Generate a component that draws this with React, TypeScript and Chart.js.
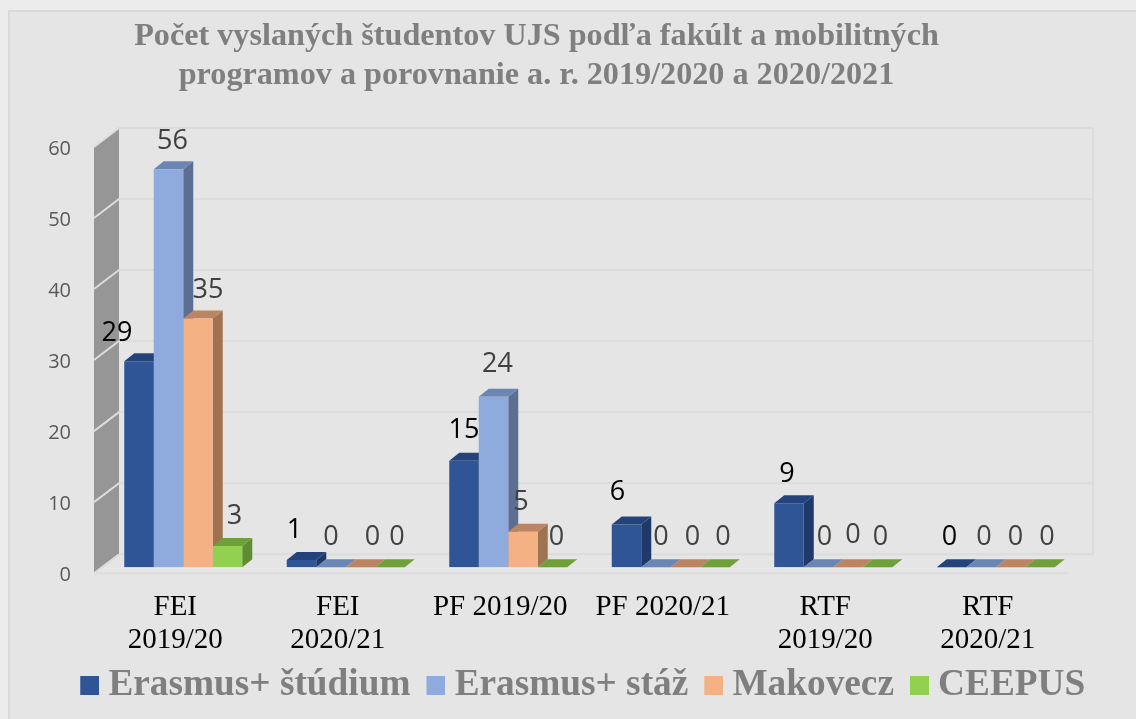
import React, { useEffect, useRef } from "react";
import { Chart, registerables } from "chart.js";

Chart.register(...registerables);

const categories = [["FEI", "2019/20"], ["FEI", "2020/21"], "PF 2019/20", "PF 2020/21", ["RTF", "2019/20"], ["RTF", "2020/21"]];
const erasmusStudium = [29, 1, 15, 6, 9, 0];
const erasmusStaz = [56, 0, 24, 0, 0, 0];
const makovecz = [35, 0, 5, 0, 0, 0];
const ceepus = [3, 0, 0, 0, 0, 0];
const seriesNames = ["Erasmus+ štúdium", "Erasmus+ stáž", "Makovecz", "CEEPUS"];
const titleLines = ["Počet vyslaných študentov UJS podľa fakúlt a mobilitných", "programov a porovnanie a. r. 2019/2020 a 2020/2021"];

const frontColors = ["#2f5597", "#8faadc", "#f4b183", "#92d050"];
const topColors = ["#24437a", "#6c86b3", "#bb8564", "#6fa03a"];
const sideColors = ["#1f3a69", "#5c6e91", "#9f7350", "#5f8c2e"];
const labelColors = ["#000000", "#404040", "#404040", "#404040"];

// Hand-placed data label nudges, per series then per category: [dx, dy]
const labelNudges = [
  [[-22, -28], [-7, -30], [0, -30], [-9, -32], [-2, -29], [-2, -30]],
  [[4, -28], [0, -30], [4, -32], [5, -30], [6, -30], [3, -30]],
  [[10, -28], [12, -30], [-2, -29], [7, -30], [5, -32], [5, -30]],
  [[7, -30], [7, -30], [4, -30], [8, -30], [3, -30], [7, -30]],
];

const DEPTH_X = 10;
const DEPTH_Y = 8;

function legendSwatch(color: string) {
  const c = document.createElement("canvas");
  c.width = 29;
  c.height = 19;
  const g = c.getContext("2d")!;
  g.fillStyle = color;
  g.fillRect(10, 0, 19, 19);
  return c;
}

function poly(ctx: CanvasRenderingContext2D, pts: number[][], fill: string) {
  ctx.beginPath();
  pts.forEach((p, i) => (i ? ctx.lineTo(p[0], p[1]) : ctx.moveTo(p[0], p[1])));
  ctx.closePath();
  ctx.fillStyle = fill;
  ctx.fill();
}

const backdrop = {
  id: "backdrop",
  beforeDraw(chart: any) {
    const { ctx, width, height } = chart;
    ctx.save();
    ctx.fillStyle = "#ececec";
    ctx.fillRect(0, 0, width, height);
    ctx.fillStyle = "#e5e5e5";
    ctx.fillRect(8, 10, width - 8, height - 10);
    ctx.fillStyle = "#dadada";
    ctx.fillRect(8, 10, width - 8, 2);
    ctx.fillRect(8, 10, 2, height - 10);
    ctx.restore();
  },
};

const blockPlacement = {
  id: "blockPlacement",
  afterLayout(chart: any) {
    chart.legend.left += 44;
    chart.legend.right += 44;
    chart.titleBlock.left -= 2;
    chart.titleBlock.right -= 2;
  },
};

const walls = {
  id: "walls",
  beforeDatasetsDraw(chart: any) {
    const { ctx, chartArea, scales } = chart;
    const y = scales.y;
    const frontX = chartArea.left - 8;
    const backX = chartArea.left + 17;
    const farX = chartArea.right + 16;
    const back = (v: number) => y.getPixelForValue(v) - 13;
    const front = (v: number) => y.getPixelForValue(v) + 6;
    const max = y.max;
    ctx.save();
    poly(ctx, [[frontX, front(max)], [backX, back(max)], [backX, back(0)], [frontX, front(0)]], "#969696");
    ctx.strokeStyle = "#dcdcdc";
    ctx.lineWidth = 2;
    y.ticks.forEach((t: any) => {
      ctx.beginPath();
      if (t.value === 0) {
        ctx.moveTo(frontX, front(0));
        ctx.lineTo(farX - 25, front(0));
        ctx.moveTo(backX, back(0));
        ctx.lineTo(farX, back(0));
      } else {
        ctx.moveTo(frontX, front(t.value));
        ctx.lineTo(backX, back(t.value));
        ctx.lineTo(farX, back(t.value));
      }
      ctx.stroke();
    });
    ctx.beginPath();
    ctx.moveTo(frontX, front(0));
    ctx.lineTo(backX, back(0));
    ctx.moveTo(farX, back(max));
    ctx.lineTo(farX, back(0));
    ctx.stroke();
    ctx.restore();

    // depth faces of the bars, left to right so nearer faces overlap
    chart.data.datasets.forEach((_: any, di: number) => {
      chart.getDatasetMeta(di).data.forEach((bar: any) => {
        const half = bar.width / 2;
        const l = bar.x - half;
        const r = bar.x + half;
        const t = bar.y;
        const b = bar.base;
        if (b - t > 0.5) {
          poly(ctx, [[r, t], [r + DEPTH_X, t - DEPTH_Y], [r + DEPTH_X, b - DEPTH_Y], [r, b]], sideColors[di]);
        }
        poly(ctx, [[l, t], [r, t], [r + DEPTH_X, t - DEPTH_Y], [l + DEPTH_X, t - DEPTH_Y]], topColors[di]);
      });
    });
  },
};

const valueLabels = {
  id: "valueLabels",
  afterDatasetsDraw(chart: any) {
    const { ctx } = chart;
    ctx.save();
    ctx.font = '27px "Open Sans"';
    ctx.textAlign = "center";
    ctx.textBaseline = "middle";
    chart.data.datasets.forEach((ds: any, di: number) => {
      chart.getDatasetMeta(di).data.forEach((bar: any, i: number) => {
        const [dx, dy] = labelNudges[di][i];
        ctx.fillStyle = labelColors[di];
        ctx.fillText(String(ds.data[i]), bar.x + dx, bar.y + dy);
      });
    });
    ctx.restore();
  },
};

export default function App() {
  const ref = useRef<HTMLCanvasElement>(null);
  useEffect(() => {
    const seriesValues = [erasmusStudium, erasmusStaz, makovecz, ceepus];
    const chart = new Chart(ref.current!, {
      type: "bar",
      data: {
        labels: categories as any,
        datasets: seriesNames.map((name, i) => ({
          label: name,
          data: seriesValues[i],
          backgroundColor: frontColors[i],
          borderWidth: 0,
          pointStyle: legendSwatch(frontColors[i]) as any,
        })),
      },
      options: {
        responsive: false,
        animation: false,
        layout: { padding: { left: 0, right: 59, top: 0, bottom: 5 } },
        datasets: { bar: { categoryPercentage: 0.726, barPercentage: 1 } },
        scales: {
          x: {
            grid: { display: false },
            border: { display: false },
            ticks: {
              color: "#000000",
              font: { family: '"Liberation Serif"', size: 29, lineHeight: 1.14 },
              maxRotation: 0,
              autoSkip: false,
              padding: 16,
              labelOffset: -8,
            },
            afterFit(s: any) { s.height = 84; },
          },
          y: {
            min: 0,
            max: 60,
            grid: { display: false },
            border: { display: false },
            ticks: {
              stepSize: 10,
              color: "#595959",
              font: { family: '"Open Sans"', size: 20 },
              padding: 23,
              labelOffset: 8,
            },
            afterFit(s: any) { s.width = 102; },
          },
        },
        plugins: {
          title: {
            display: true,
            text: titleLines,
            color: "#7f7f7f",
            font: { family: '"Liberation Serif"', size: 32.2, weight: "bold", lineHeight: 1.21 },
            padding: { top: 17.5, bottom: 45.5 },
          },
          legend: {
            position: "bottom",
            labels: {
              color: "#7f7f7f",
              font: { family: '"Liberation Serif"', size: 37.3, weight: "bold" },
              usePointStyle: true,
              pointStyleWidth: 10,
              boxHeight: 19,
              padding: 15.5,
            },
          },
          tooltip: { enabled: false },
        },
      },
      plugins: [backdrop, blockPlacement, walls, valueLabels],
    });
    return () => chart.destroy();
  }, []);
  return (
    <div style={{ position: "absolute", left: 0, top: 0, width: 1136, height: 719 }}>
      <canvas ref={ref} width={1136} height={719} style={{ display: "block" }} />
    </div>
  );
}
